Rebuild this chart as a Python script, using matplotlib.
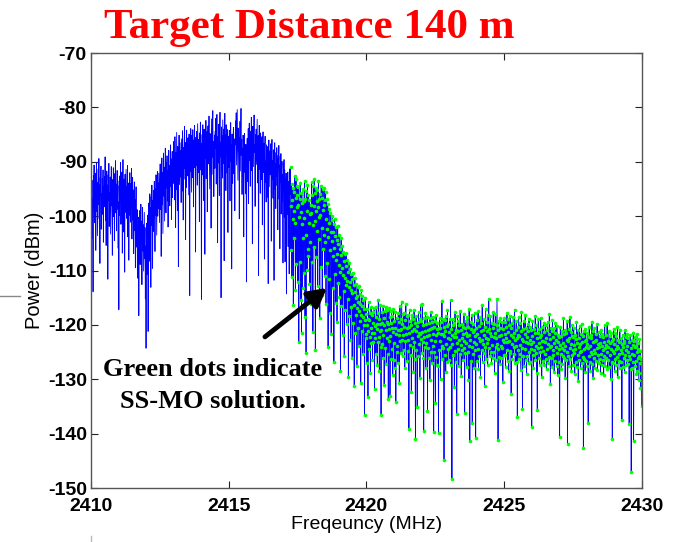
import numpy as np
import matplotlib.pyplot as plt
from matplotlib.lines import Line2D

plt.rcParams['axes.unicode_minus'] = False

# Spectrum sweep, 2410-2430 MHz, 0.0125 MHz steps (two lines = 40 samples = 0.5 MHz)
power_dbm = [
    -95.2, -91.8, -99.6, -93.4, -104.1, -96.8, -113.9, -92.5, -97.3, -90.6, -101.2, -94.7, -98.9, -92.1, -106.3, -95.5, -90.2, -99.1, -93.8, -103.6,
    -96.4, -91.3, -97.8, -89.4, -100.5, -94.2, -108.7, -92.9, -96.1, -90.8, -102.4, -95.9, -99.7, -93.1, -97.6, -91.5, -104.8, -94.6, -98.3, -92.7,
    -96.9, -89.1, -100.8, -93.6, -105.4, -95.1, -91.7, -98.5, -94.3, -111.6, -92.4, -97.1, -90.3, -101.9, -95.7, -99.2, -92.8, -103.3, -96.6, -90.9,
    -98.1, -94.9, -107.2, -93.3, -97.9, -91.1, -100.1, -95.3, -104.5, -92.2, -96.3, -89.8, -99.4, -94.1, -102.7, -95.8, -91.6, -98.7, -93.5, -105.9,
    -97.4, -117.2, -94.4, -99.9, -92.6, -96.2, -90.1, -101.5, -95.0, -98.6, -91.9, -106.8, -94.8, -89.6, -97.7, -102.9, -93.2, -96.7, -110.3, -92.3,
    -99.3, -95.6, -91.4, -100.4, -94.5, -97.2, -90.7, -103.8, -96.0, -93.9, -108.1, -95.4, -99.8, -92.0, -97.5, -101.1, -94.0, -98.4, -91.2, -104.2,
    -96.5, -92.9, -100.7, -95.2, -106.9, -98.2, -93.7, -102.6, -97.0, -109.5, -99.5, -94.6, -101.8, -105.7, -98.8, -111.4, -102.3, -107.6, -100.2, -118.3,
    -104.4, -99.0, -103.0, -108.9, -101.4, -97.8, -105.2, -100.9, -112.6, -103.7, -98.4, -106.4, -101.6, -110.1, -104.7, -99.3, -107.8, -102.1, -115.2, -105.5,
    -124.3, -106.2, -101.3, -110.7, -103.1, -99.8, -121.2, -105.0, -97.6, -108.3, -100.6, -95.9, -104.9, -98.5, -113.1, -96.4, -101.7, -94.3, -99.5, -109.6,
    -97.1, -102.8, -95.3, -100.3, -93.6, -98.0, -106.5, -94.9, -99.9, -92.4, -97.4, -103.5, -95.0, -91.8, -100.0, -93.9, -98.6, -92.1, -96.9, -101.2,
    -94.1, -90.4, -98.8, -92.7, -107.4, -95.6, -89.3, -97.9, -92.0, -103.2, -94.4, -88.4, -96.3, -91.0, -100.9, -93.3, -87.5, -95.2, -99.4, -90.2,
    -94.8, -88.9, -97.2, -91.6, -102.0, -93.0, -87.9, -95.8, -90.7, -98.1, -92.5, -86.9, -94.5, -89.5, -100.6, -91.9, -88.1, -96.6, -90.0, -93.7,
    -86.3, -94.0, -89.2, -97.0, -85.4, -92.2, -102.1, -88.3, -95.1, -84.6, -91.4, -99.0, -87.2, -93.5, -109.3, -89.7, -85.1, -94.2, -90.3, -86.5,
    -92.8, -88.0, -97.5, -85.8, -90.9, -95.4, -84.3, -89.1, -100.7, -87.4, -93.2, -86.1, -83.5, -91.3, -88.6, -104.3, -86.4, -94.7, -84.2, -89.6,
    -87.7, -92.6, -85.6, -90.5, -96.1, -84.9, -88.8, -114.6, -86.7, -91.8, -83.9, -89.9, -95.6, -85.2, -88.2, -92.9, -84.1, -90.1, -98.3, -86.0,
    -89.4, -83.3, -91.1, -87.1, -106.6, -85.5, -90.7, -84.4, -88.5, -94.3, -83.0, -87.8, -92.0, -85.9, -89.0, -101.0, -84.7, -88.7, -82.7, -91.5,
    -86.6, -115.3, -90.0, -85.0, -92.4, -83.2, -88.4, -97.1, -86.2, -84.0, -91.0, -107.0, -85.3, -89.3, -82.4, -93.1, -87.0, -84.5, -99.2, -88.1,
    -83.4, -90.4, -86.8, -81.6, -89.5, -95.0, -84.8, -88.9, -85.7, -102.2, -82.1, -87.3, -92.3, -84.2, -80.6, -89.2, -86.3, -96.4, -88.0, -85.1,
    -91.2, -84.4, -87.5, -82.0, -94.1, -86.0, -81.3, -88.3, -104.9, -85.4, -90.2, -83.1, -87.6, -96.2, -84.3, -80.9, -89.1, -86.4, -115.0, -83.6,
    -88.2, -85.2, -93.0, -82.3, -86.1, -90.3, -84.0, -108.2, -87.2, -81.1, -89.0, -85.0, -95.3, -83.2, -88.6, -86.5, -92.1, -84.1, -103.0, -87.0,
    -85.3, -91.0, -84.2, -88.0, -97.2, -86.2, -82.8, -90.0, -86.9, -109.7, -84.9, -89.1, -94.0, -85.6, -83.7, -92.2, -87.9, -85.8, -99.0, -88.4,
    -82.5, -86.8, -81.0, -90.6, -84.6, -80.4, -87.4, -93.4, -83.8, -88.1, -85.5, -100.5, -82.6, -86.6, -91.7, -84.5, -80.2, -88.8, -85.9, -96.0,
    -87.5, -92.7, -85.1, -89.4, -103.8, -87.9, -84.8, -91.9, -88.9, -95.9, -86.8, -90.8, -112.1, -88.5, -85.7, -93.6, -89.6, -83.9, -97.7, -87.6,
    -82.9, -89.8, -86.1, -94.5, -84.4, -88.7, -81.8, -91.6, -85.6, -105.1, -83.5, -87.7, -90.9, -84.6, -81.4, -88.3, -86.9, -98.2, -85.0, -89.7,
    -84.0, -90.5, -86.4, -82.2, -93.9, -87.3, -85.2, -110.9, -88.6, -83.3, -91.4, -86.2, -95.8, -84.7, -89.2, -87.1, -93.3, -85.4, -101.6, -88.1,
    -84.5, -92.0, -86.6, -90.1, -107.9, -87.5, -85.3, -93.8, -89.9, -97.4, -86.9, -91.2, -88.4, -96.5, -87.2, -112.4, -89.3, -86.0, -94.6, -90.8,
    -88.0, -92.4, -86.7, -90.7, -104.6, -88.7, -85.9, -93.2, -89.8, -96.7, -87.8, -91.9, -111.8, -89.4, -86.5, -95.1, -90.4, -98.6, -88.3, -92.6,
    -87.4, -94.4, -89.5, -102.5, -88.8, -91.1, -87.0, -96.9, -90.6, -106.0, -89.0, -93.7, -88.5, -99.6, -91.8, -89.9, -97.3, -92.3, -108.6, -90.2,
    -94.9, -89.6, -100.2, -91.5, -108.4, -93.4, -97.4, -92.1, -114.3, -95.8, -92.8, -99.7, -91.9, -105.6, -96.3, -93.6, -110.6, -97.7, -91.3, -96.0,
    -91.0, -106.3, -98.1, -94.1, -111.2, -97.0, -100.5, -94.8, -116.4, -99.1, -95.5, -104.0, -92.6, -101.3, -113.6, -96.6, -93.1, -108.8, -98.4, -94.5,
    -96.1, -112.2, -98.0, -94.7, -123.1, -100.1, -96.9, -108.5, -93.9, -115.4, -99.3, -95.7, -121.4, -101.5, -97.6, -113.3, -95.1, -104.1, -110.4, -97.3,
    -100.4, -93.5, -118.6, -96.8, -103.4, -125.2, -95.4, -99.0, -109.9, -94.2, -106.1, -96.2, -107.3, -101.2, -97.1, -112.5, -99.6, -104.7, -97.9, -116.1,
    -99.5, -93.8, -108.4, -96.1, -101.7, -121.3, -94.5, -98.2, -105.6, -93.2, -100.9, -95.7, -124.6, -99.1, -94.9, -107.5, -97.3, -102.8, -95.2, -112.9,
    -98.4, -93.6, -104.2, -96.8, -100.2, -118.7, -95.9, -99.7, -109.3, -94.4, -102.1, -96.6, -114.5, -98.9, -95.0, -106.1, -97.9, -103.5, -94.8, -111.0,
    -97.1, -104.8, -95.6, -116.2, -100.5, -96.9, -108.7, -102.4, -97.8, -124.1, -103.9, -98.6, -111.5, -101.2, -117.8, -99.4, -106.3, -103.0, -121.6, -100.8,
    -104.6, -99.9, -113.2, -102.9, -107.4, -101.5, -126.9, -105.8, -100.6, -110.7, -103.6, -115.9, -102.0, -108.1, -104.3, -119.4, -106.9, -101.8, -112.3, -105.2,
    -108.9, -103.4, -114.8, -106.0, -110.3, -128.4, -107.2, -104.1, -116.5, -109.6, -105.5, -121.9, -110.8, -106.6, -113.7, -108.3, -125.7, -111.4, -107.0, -117.2,
    -109.1, -112.6, -106.8, -119.8, -111.9, -108.0, -115.3, -110.2, -129.6, -113.0, -108.7, -118.3, -112.2, -109.8, -122.7, -113.6, -110.6, -116.8, -111.6, -126.0,
    -114.1, -110.4, -119.6, -112.7, -116.3, -131.2, -113.9, -111.3, -121.4, -115.1, -112.5, -118.2, -114.7, -127.6, -116.9, -113.1, -120.5, -115.8, -112.9, -123.9,
    -117.4, -114.3, -119.3, -116.1, -130.7, -118.1, -113.5, -121.2, -116.6, -114.6, -125.3, -118.5, -115.4, -120.0, -117.0, -136.6, -119.1, -115.0, -122.4, -118.0,
    -121.6, -117.0, -127.1, -120.0, -118.9, -133.2, -121.2, -115.8, -124.5, -119.1, -122.2, -117.8, -128.9, -120.5, -116.8, -123.3, -121.4, -118.1, -126.4, -119.7,
    -123.1, -117.6, -121.5, -116.9, -131.8, -120.2, -122.4, -118.5, -125.3, -116.7, -120.8, -119.9, -127.4, -117.9, -123.2, -115.4, -122.3, -119.0, -128.4, -121.1,
    -119.8, -116.4, -124.0, -136.5, -120.9, -117.7, -123.5, -119.6, -126.0, -116.6, -121.8, -118.8, -131.0, -120.1, -117.5, -124.3, -121.0, -116.8, -127.2, -119.5,
    -122.4, -117.3, -125.4, -119.9, -133.7, -120.7, -116.9, -123.0, -118.6, -133.0, -122.1, -119.7, -126.2, -117.4, -120.6, -124.4, -118.4, -129.2, -121.3, -117.1,
    -123.4, -119.3, -126.5, -128.0, -120.6, -117.6, -134.1, -121.7, -125.0, -118.7, -123.8, -120.9, -127.0, -117.8, -121.9, -119.4, -130.6, -121.0, -116.5, -122.9,
    -118.9, -125.1, -120.7, -115.7, -122.8, -119.8, -125.8, -121.8, -118.0, -124.7, -120.4, -117.9, -127.9, -119.1, -123.0, -116.2, -121.6, -118.3, -126.7, -120.5,
    -122.7, -118.1, -124.8, -120.3, -139.2, -121.4, -117.2, -123.7, -119.2, -125.5, -120.0, -132.4, -122.5, -118.2, -121.1, -124.1, -119.0, -128.7, -120.8, -117.3,
    -123.1, -119.7, -126.3, -140.9, -121.2, -118.4, -124.6, -120.2, -135.1, -122.0, -119.5, -125.7, -117.7, -121.5, -123.6, -118.9, -129.8, -121.6, -116.4, -122.6,
    -119.2, -125.2, -121.3, -116.1, -123.2, -120.0, -126.0, -139.6, -122.2, -118.8, -124.0, -121.2, -117.9, -128.0, -119.9, -123.3, -122.0, -118.6, -135.9, -120.9,
    -124.2, -119.6, -126.1, -121.9, -118.7, -130.2, -120.8, -124.9, -117.6, -122.7, -120.6, -127.1, -119.5, -123.9, -118.5, -121.7, -139.7, -120.4, -125.0, -119.3,
    -123.0, -134.3, -121.9, -118.2, -125.9, -120.7, -127.4, -119.7, -127.6, -121.5, -139.9, -120.5, -124.7, -118.8, -122.9, -120.6, -129.9, -121.7, -119.4, -123.8,
    -115.6, -126.2, -121.6, -118.9, -124.2, -120.3, -144.9, -122.1, -119.1, -125.6, -121.1, -128.6, -118.3, -123.5, -120.2, -126.9, -117.3, -122.4, -119.8, -124.5,
    -121.3, -126.4, -122.6, -119.0, -124.1, -115.5, -127.3, -120.7, -123.6, -148.3, -121.8, -118.9, -125.5, -120.0, -122.2, -119.6, -131.5, -121.4, -117.6, -124.8,
    -122.3, -126.8, -120.9, -136.4, -123.4, -118.4, -124.4, -121.2, -119.2, -127.5, -122.8, -120.1, -125.3, -117.4, -123.7, -121.0, -129.4, -119.8, -124.6, -122.5,
    -120.3, -126.5, -121.7, -124.3, -118.0, -122.9, -136.2, -120.6, -125.1, -119.3, -123.4, -121.5, -127.7, -118.6, -122.1, -124.9, -120.4, -130.1, -121.9, -117.1,
    -123.9, -141.4, -122.7, -119.5, -126.6, -120.8, -124.0, -118.1, -138.0, -121.3, -125.4, -119.9, -123.1, -127.9, -121.0, -117.8, -124.7, -122.0, -140.8, -120.5,
    -123.5, -119.1, -126.7, -121.6, -124.5, -117.5, -128.2, -122.4, -120.2, -125.7, -118.5, -123.0, -129.6, -121.1, -119.7, -124.6, -122.8, -116.3, -126.8, -120.9,
    -123.6, -119.0, -125.2, -121.8, -131.3, -120.3, -124.1, -117.0, -122.5, -126.3, -119.4, -123.3, -121.2, -127.4, -118.2, -122.6, -115.2, -124.2, -120.7, -125.8,
    -121.4, -118.4, -124.9, -122.1, -127.0, -119.6, -123.7, -120.5, -126.1, -117.7, -122.3, -125.0, -119.9, -128.8, -121.5, -118.0, -124.0, -122.4, -126.4, -120.1,
    -115.3, -123.5, -121.0, -141.2, -124.4, -119.3, -125.9, -122.0, -120.6, -127.2, -118.7, -123.8, -121.9, -126.0, -119.5, -124.3, -122.7, -130.5, -120.8, -125.5,
    -118.8, -123.2, -121.6, -125.6, -119.4, -127.8, -122.5, -120.4, -124.6, -117.9, -123.1, -126.6, -121.3, -119.0, -128.5, -122.9, -120.0, -125.1, -118.3, -124.8,
    -121.8, -132.7, -120.6, -123.6, -119.7, -126.3, -122.2, -118.6, -125.3, -121.5, -124.1, -117.2, -122.8, -127.1, -120.9, -123.9, -119.2, -126.9, -122.4, -137.0,
    -120.4, -124.7, -121.9, -118.5, -126.2, -122.1, -125.4, -119.6, -123.7, -128.3, -121.2, -117.6, -124.2, -122.6, -135.5, -120.8, -125.7, -123.0, -119.2, -127.6,
    -121.7, -124.5, -118.2, -126.5, -123.2, -120.5, -129.1, -122.3, -125.8, -119.8, -123.4, -121.1, -127.0, -118.9, -124.9, -122.7, -120.3, -126.8, -123.5, -121.0,
    -124.4, -138.7, -122.0, -119.3, -125.6, -123.1, -127.9, -120.7, -124.6, -121.4, -126.4, -118.4, -123.8, -125.2, -120.1, -128.9, -122.5, -135.6, -121.5, -124.3,
    -119.0, -126.0, -123.3, -120.8, -127.4, -122.2, -125.0, -118.7, -124.0, -121.8, -129.6, -123.0, -120.3, -126.6, -122.9, -124.8, -119.6, -127.3, -121.3, -125.3,
    -123.2, -120.0, -126.3, -122.4, -128.2, -121.0, -124.5, -119.4, -127.1, -123.6, -121.6, -125.9, -118.0, -124.0, -122.6, -130.8, -120.5, -126.1, -123.8, -121.1,
    -127.8, -119.1, -124.7, -122.2, -125.6, -120.6, -128.7, -123.4, -121.4, -126.7, -119.7, -124.1, -122.8, -127.5, -120.2, -125.1, -123.1, -129.3, -121.9, -124.4,
    -122.3, -126.9, -140.6, -123.7, -120.4, -125.4, -122.1, -128.1, -124.2, -121.2, -127.2, -123.3, -125.7, -118.8, -126.0, -121.7, -124.6, -120.9, -129.7, -123.9,
    -121.5, -126.5, -122.7, -124.9, -119.3, -141.9, -123.0, -125.8, -120.7, -127.6, -122.4, -124.3, -118.5, -126.2, -123.5, -121.3, -128.4, -122.0, -125.5, -120.1,
    -124.7, -122.2, -127.3, -120.6, -125.2, -123.7, -129.0, -121.8, -124.5, -126.8, -122.6, -119.5, -127.7, -123.4, -125.6, -121.0, -130.4, -124.1, -122.5, -126.4,
    -120.2, -125.0, -123.6, -128.0, -121.6, -124.8, -119.8, -127.0, -123.1, -125.9, -122.1, -142.6, -124.4, -121.2, -126.3, -123.0, -128.6, -120.8, -124.0, -122.7,
    -126.6, -123.5, -121.4, -127.5, -124.3, -138.1, -122.2, -125.7, -120.3, -126.9, -123.8, -128.5, -121.9, -124.9, -122.4, -127.2, -119.4, -125.3, -123.2, -129.8,
    -121.1, -126.1, -124.6, -120.5, -127.9, -123.0, -125.1, -121.7, -126.7, -122.8, -124.2, -119.9, -128.3, -123.6, -125.6, -121.3, -127.1, -124.1, -122.0, -126.2,
    -123.4, -128.8, -120.9, -125.4, -123.9, -127.4, -121.6, -124.7, -126.5, -122.3, -129.2, -123.1, -125.8, -120.0, -127.6, -124.3, -121.8, -126.0, -123.7, -125.0,
    -119.6, -128.1, -122.9, -126.4, -124.0, -121.2, -127.8, -123.3, -125.5, -122.1, -130.0, -124.5, -121.4, -126.8, -123.0, -141.0, -124.8, -122.6, -127.0, -120.7,
    -125.2, -123.6, -128.4, -121.5, -126.3, -124.4, -122.0, -127.3, -123.8, -125.9, -120.4, -129.5, -124.2, -122.7, -126.6, -123.2, -125.4, -121.0, -128.0, -124.6,
    -122.4, -126.9, -123.5, -137.4, -125.1, -121.8, -127.7, -124.0, -122.9, -126.0, -123.4, -128.7, -120.9, -125.6, -124.7, -122.2, -127.4, -123.9, -126.4, -121.6,
    -124.9, -127.2, -122.5, -125.8, -138.3, -123.1, -126.2, -121.9, -128.2, -124.3, -147.1, -125.3, -122.8, -127.9, -123.7, -126.8, -121.4, -141.4, -125.5, -123.0,
    -127.5, -124.1, -122.3, -126.7, -123.9, -129.0, -125.0, -121.7, -128.5, -124.5, -126.1, -123.3, -130.2, -125.7, -122.6, -127.1, -124.8, -131.6, -126.3, -128.9,
    -135.0,
]
power_dbm = np.array(power_dbm)
freq_mhz = np.linspace(2410, 2430, len(power_dbm))

# samples picked by the SS-MO solver
ssmo_start_mhz = 2417.25
ssmo_mask = freq_mhz >= ssmo_start_mhz

fig = plt.figure(figsize=(6.79, 5.42), dpi=100)
ax = fig.add_axes([0.134, 0.0996, 0.8108, 0.8026])

ax.plot(freq_mhz, power_dbm, color='#0000ff', lw=0.6)
ax.plot(freq_mhz[ssmo_mask], power_dbm[ssmo_mask], linestyle='none',
        marker='o', markersize=2.6, color='#00ff00', markeredgewidth=0)

ax.set_xlim(2410, 2430)
ax.set_ylim(-150, -70)
ax.set_xticks([2410, 2415, 2420, 2425, 2430])
ax.set_yticks(np.arange(-150, -69, 10))
ax.tick_params(direction='in', top=True, right=True, length=5, width=0.8,
               labelsize=14, pad=3, colors='#222222')
ax.tick_params(axis='x', pad=7)
for lab in ax.get_xticklabels() + ax.get_yticklabels():
    lab.set_fontweight('bold')
    lab.set_fontfamily('Liberation Sans')
    lab.set_color('black')
for sp in ax.spines.values():
    sp.set_color('#555555')
    sp.set_linewidth(1.0)

ax.set_xlabel('Freqeuncy (MHz)', fontsize=14, fontfamily='Liberation Sans', labelpad=1)
ax.set_ylabel('Power (dBm)', fontsize=14.5, fontfamily='Liberation Sans', labelpad=3)

fig.text(0.455, 0.93, 'Target Distance 140 m', color='#ff0000', fontsize=31,
         fontweight='bold', fontfamily='Liberation Serif', ha='center', va='baseline')

ax.annotate('', xy=(2418.57, -113.2), xytext=(2416.32, -122.2),
            arrowprops=dict(arrowstyle='-|>,head_length=1.1,head_width=0.6',
                            color='black', lw=3.5, shrinkA=0, shrinkB=0))
ax.text(2414.43, -131.2, 'Green dots indicate\nSS-MO solution.', ha='center', va='center',
        fontsize=19, fontweight='bold', fontfamily='Liberation Serif', linespacing=1.5)

# small grey slide marks around the plot
fig.add_artist(Line2D([0.0, 0.03], [1 - 296 / 542, 1 - 296 / 542], color='#888888', lw=1))
fig.add_artist(Line2D([91 / 679, 91 / 679], [0.0, 6 / 542], color='#bbbbbb', lw=1))

fig.savefig('out.png', dpi=100)
